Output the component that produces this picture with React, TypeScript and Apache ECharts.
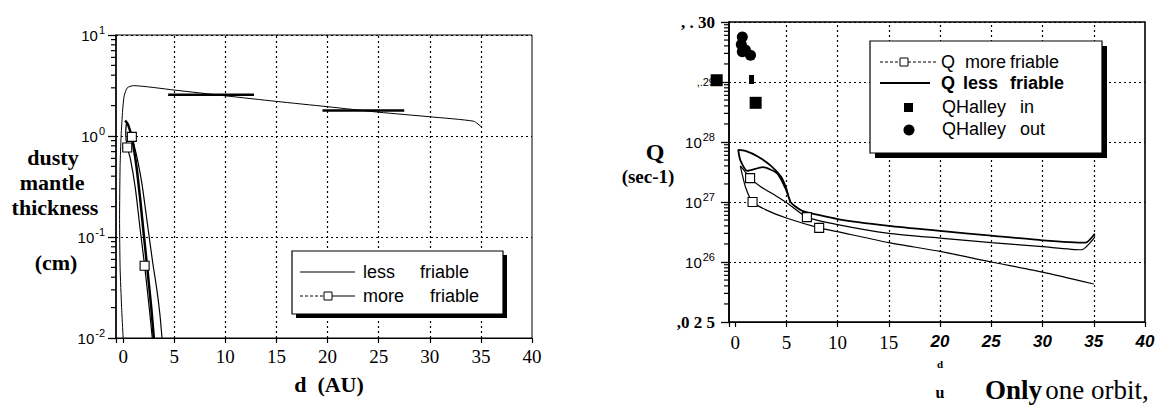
import React, { useEffect, useRef } from 'react';
import * as echarts from 'echarts';

const SERIF = '"Liberation Serif", "Times New Roman", serif';
const SANS = '"Liberation Sans", Arial, sans-serif';

// ---------------- Left panel: dusty mantle thickness (cm) vs d (AU)
const leftGridX = [5, 10, 15, 20, 25, 30, 35];
const leftMinorDecades = [0.01, 0.1, 1];
const minorMantissas = [2, 3, 4, 5, 6, 7, 8, 9];

const leftLessFriable: number[][] = [
  [0.0, 0.01], [-0.15, 0.02], [-0.3, 0.05], [-0.35, 0.15], [-0.3, 0.5], [-0.2, 1.0],
  [-0.05, 1.8], [0.1, 2.5], [0.4, 3.0], [1.0, 3.15], [5, 2.85], [10, 2.5], [15, 2.2],
  [20, 1.95], [25, 1.72], [30, 1.55], [34.3, 1.4], [35, 1.24],
];
const leftThickBranch: number[][] = [
  [0.2, 1.42], [0.5, 1.28], [0.9, 0.92], [1.3, 0.5], [1.7, 0.22], [2.0, 0.11],
  [2.4, 0.045], [2.75, 0.02], [3.0, 0.01],
];
const leftMoreFriable: number[][] = [
  [2.85, 0.01], [2.55, 0.02], [2.1, 0.052], [1.66, 0.12], [1.2, 0.3], [0.7, 0.6],
  [0.4, 0.77], [0.25, 1.05], [0.35, 1.35], [0.6, 1.2], [0.85, 0.98], [1.3, 0.65],
  [1.85, 0.33], [2.44, 0.12], [2.9, 0.055], [3.3, 0.03], [3.6, 0.017], [3.8, 0.01],
];
const leftMoreMarkers: number[][] = [[0.4, 0.77], [0.85, 0.98], [2.1, 0.052]];
const leftFlatSeg1: number[][] = [[4.4, 2.56], [12.8, 2.56]];
const leftFlatSeg2: number[][] = [[19.5, 1.79], [27.5, 1.79]];

// ---------------- Right panel: Q (sec-1) vs d (AU)
const rightGridX = [5, 10, 15, 20, 25, 30, 35];
const rightMinorDecades = [1e25, 1e26, 1e27, 1e28, 1e29];
const rightYTickLabels: Record<number, string> = {
  30: '{t|, . 30}',
  29: '{u|,.29}',
  28: '{b|10}{s|28}',
  27: '{b|10}{s|27}',
  26: '{b|10}{s|26}',
  25: '{t|,0 2 5}',
};

const rightMoreFriable: number[][] = [
  [35, 4.3e25], [30, 6.8e25], [25, 1.0e26], [20, 1.5e26], [15, 2.1e26], [10, 3.2e26],
  [8.2, 3.7e26], [5, 5.4e26], [3, 7.4e26], [1.7, 1.0e27], [1.0, 1.8e27], [0.5, 4.0e27],
  [0.8, 3.5e27], [1.46, 2.5e27], [2.5, 1.8e27], [4.0, 1.26e27], [5.2, 9.3e26],
  [7.0, 5.6e26], [10, 4.2e26], [15, 3.0e26], [20, 2.5e26], [25, 2.1e26], [30, 1.8e26],
  [33.8, 1.6e26], [35.1, 2.6e26],
];
const rightLessFriable: number[][] = [
  [35.1, 2.95e26], [34.2, 2.1e26], [30, 2.3e26], [25, 2.75e26], [20, 3.3e26],
  [15, 4.0e26], [10, 5.2e26], [6.5, 7.2e26], [5.4, 1.0e27], [5.0, 1.66e27],
  [4.5, 2.6e27], [3.5, 4.0e27], [2.2, 5.75e27], [1.0, 7.1e27], [0.3, 7.4e27],
  [0.5, 5.0e27], [1.2, 3.3e27], [2.7, 3.8e27], [4.1, 3.0e27], [4.9, 1.7e27], [5.4, 1.0e27],
];
const rightMoreMarkers: number[][] = [[1.7, 1.0e27], [1.46, 2.5e27], [7.0, 5.6e26], [8.2, 3.7e26]];
const halleyIn: number[][] = [[-1.8, 1.07e29], [2.0, 4.5e28]];
const halleyInSmall: number[][] = [[1.6, 1.1e29]];
const halleyOut: number[][] = [[0.7, 5.6e29], [0.6, 4.2e29], [0.7, 3.2e29], [1.0, 3.4e29], [1.5, 2.8e29]];

const dotted = { type: [2, 3] as any, color: '#000', width: 1.2 };

function minorTickSeries(idx: number, xAt: number, decades: number[]) {
  const data: number[][] = [];
  decades.forEach((d) => minorMantissas.forEach((m) => data.push([xAt, d * m])));
  return {
    type: 'scatter',
    xAxisIndex: idx,
    yAxisIndex: idx,
    clip: false,
    silent: true,
    z: 6,
    data,
    symbol: 'rect',
    symbolSize: [5, 1.2],
    symbolOffset: [-2.5, 0],
    itemStyle: { color: '#000', opacity: 1 },
  };
}

function txt(text: string, x: number, y: number, font: string, align = 'left', z = 102): any {
  return {
    type: 'text', x, y, z,
    style: { text, font, fill: '#000', align, verticalAlign: 'middle', textAlign: align, textVerticalAlign: 'middle' },
  };
}
function box(x: number, y: number, w: number, h: number, s: number): any[] {
  return [
    { type: 'rect', z: 100, shape: { x: x + s, y: y + s, width: w, height: h }, style: { fill: '#000' } },
    { type: 'rect', z: 101, shape: { x, y, width: w, height: h }, style: { fill: '#fff', stroke: '#000', lineWidth: 1.2 } },
  ];
}
function ln(x1: number, y1: number, x2: number, y2: number, w = 1, dash?: number[]): any {
  return { type: 'line', z: 102, shape: { x1, y1, x2, y2 }, style: { stroke: '#000', lineWidth: w, lineDash: dash } };
}

export default function App() {
  const ref = useRef<HTMLDivElement>(null);
  useEffect(() => {
    if (!ref.current) return;
    const chart = echarts.init(ref.current, undefined, { renderer: 'svg' });
    const supRich = {
      b: { fontFamily: SANS, fontSize: 15, color: '#000' },
      s: { fontFamily: SANS, fontSize: 11, color: '#000', padding: [0, 0, 10, 1] },
      t: { fontFamily: SERIF, fontSize: 17, fontWeight: 'bold', color: '#000' },
      u: { fontFamily: SANS, fontSize: 11, color: '#000' },
    };
    const opt: any = {
      animation: false,
      backgroundColor: '#fff',
      grid: [
        { left: 116, top: 35, width: 416, height: 303, show: true, borderColor: '#000', borderWidth: 1, backgroundColor: 'transparent' },
        { left: 729, top: 22, width: 416, height: 300, show: true, borderColor: '#000', borderWidth: 1.6, backgroundColor: 'transparent' },
      ],
      xAxis: [
        {
          gridIndex: 0, type: 'value', min: -0.7, max: 40, minInterval: 5, maxInterval: 5,
          axisLine: { show: true, onZero: false, lineStyle: { color: '#000', width: 1.2 } },
          axisTick: { show: true, length: 5, lineStyle: { color: '#000', width: 1.2 } },
          splitLine: { show: false },
          axisLabel: {
            margin: 9, color: '#000', fontFamily: SERIF, fontSize: 19,
            formatter: (v: number) => (Math.abs(v % 5) < 1e-6 ? String(v) : ''),
          },
        },
        {
          gridIndex: 1, type: 'value', min: -0.6, max: 40, minInterval: 5, maxInterval: 5,
          axisLine: { show: true, onZero: false, lineStyle: { color: '#000', width: 1.2 } },
          axisTick: { show: true, length: 5, lineStyle: { color: '#000', width: 1.2 } },
          splitLine: { show: false },
          axisLabel: {
            margin: 11, color: '#000',
            formatter: (v: number) => (Math.abs(v % 5) < 1e-6 ? (v < 20 ? `{s|${v}}` : `{i|${v}}`) : ''),
            rich: {
              s: { fontFamily: SERIF, fontSize: 19, color: '#000' },
              i: { fontFamily: SANS, fontSize: 17, fontWeight: 'bold', fontStyle: 'italic', color: '#000' },
            },
          },
        },
      ],
      yAxis: [
        {
          gridIndex: 0, type: 'log', logBase: 10, min: 0.01, max: 10,
          axisLine: { show: true, onZero: false, lineStyle: { color: '#000', width: 1.5 } },
          axisTick: { show: true, length: 8, lineStyle: { color: '#000', width: 1.3 } },
          splitLine: { show: true, lineStyle: dotted },
          axisLabel: {
            margin: 11, rich: supRich,
            formatter: (v: number) => `{b|10}{s|${Math.round(Math.log10(v))}}`,
          },
        },
        {
          gridIndex: 1, type: 'log', logBase: 10, min: 1e25, max: 1e30,
          axisLine: { show: true, onZero: false, lineStyle: { color: '#000', width: 1.5 } },
          axisTick: { show: true, length: 8, lineStyle: { color: '#000', width: 1.3 } },
          splitLine: { show: true, lineStyle: dotted },
          axisLabel: {
            margin: 14, rich: supRich,
            formatter: (v: number) => rightYTickLabels[Math.round(Math.log10(v))] || '',
          },
        },
      ],
      series: [
        minorTickSeries(0, -0.7, leftMinorDecades),
        minorTickSeries(1, -0.6, rightMinorDecades),
        {
          name: 'less friable', type: 'line', xAxisIndex: 0, yAxisIndex: 0, data: leftLessFriable,
          symbol: 'none', smooth: 0.2, lineStyle: { color: '#000', width: 1 },
          markLine: {
            silent: true, symbol: ['none', 'none'], label: { show: false },
            lineStyle: dotted, data: leftGridX.map((x) => ({ xAxis: x })),
          },
        },
        { type: 'line', xAxisIndex: 0, yAxisIndex: 0, data: leftThickBranch, symbol: 'none', smooth: 0.2, lineStyle: { color: '#000', width: 2.5 } },
        { name: 'more friable', type: 'line', xAxisIndex: 0, yAxisIndex: 0, data: leftMoreFriable, symbol: 'none', smooth: 0.2, lineStyle: { color: '#000', width: 1.2 } },
        { type: 'line', xAxisIndex: 0, yAxisIndex: 0, data: leftFlatSeg1, symbol: 'none', lineStyle: { color: '#000', width: 2.5 } },
        { type: 'line', xAxisIndex: 0, yAxisIndex: 0, data: leftFlatSeg2, symbol: 'none', lineStyle: { color: '#000', width: 2.5 } },
        {
          type: 'scatter', xAxisIndex: 0, yAxisIndex: 0, data: leftMoreMarkers, symbol: 'rect', symbolSize: 9, z: 4,
          itemStyle: { color: '#fff', borderColor: '#000', borderWidth: 1.1, opacity: 1 },
        },
        {
          name: 'Q less friable', type: 'line', xAxisIndex: 1, yAxisIndex: 1, data: rightLessFriable,
          symbol: 'none', smooth: 0.2, lineStyle: { color: '#000', width: 1.8 },
          markLine: {
            silent: true, symbol: ['none', 'none'], label: { show: false },
            lineStyle: dotted, data: rightGridX.map((x) => ({ xAxis: x })),
          },
        },
        { name: 'Q more friable', type: 'line', xAxisIndex: 1, yAxisIndex: 1, data: rightMoreFriable, symbol: 'none', smooth: 0.2, lineStyle: { color: '#000', width: 1.2 } },
        {
          type: 'scatter', xAxisIndex: 1, yAxisIndex: 1, data: rightMoreMarkers, symbol: 'rect', symbolSize: 9, z: 4,
          itemStyle: { color: '#fff', borderColor: '#000', borderWidth: 1.1, opacity: 1 },
        },
        { name: 'QHalley in', type: 'scatter', xAxisIndex: 1, yAxisIndex: 1, clip: false, data: halleyIn, symbol: 'rect', symbolSize: 12, itemStyle: { color: '#000', opacity: 1 } },
        { type: 'scatter', xAxisIndex: 1, yAxisIndex: 1, clip: false, data: halleyInSmall, symbol: 'rect', symbolSize: [5, 9], itemStyle: { color: '#000', opacity: 1 } },
        { name: 'QHalley out', type: 'scatter', xAxisIndex: 1, yAxisIndex: 1, clip: false, data: halleyOut, symbol: 'circle', symbolSize: 11, itemStyle: { color: '#000', opacity: 1 } },
      ],
      graphic: {
        elements: [
          // left axis titles
          txt('dusty', 53, 157, `bold 22px ${SERIF}`, 'center'),
          txt('mantle', 52, 182, `bold 22px ${SERIF}`, 'center'),
          txt('thickness', 55, 207, `bold 22px ${SERIF}`, 'center'),
          txt('(cm)', 56, 262, `bold 22px ${SERIF}`, 'center'),
          txt('d  (AU)', 329, 384, `bold 22px ${SERIF}`, 'center'),
          // left legend
          ...box(292, 251, 211, 63, 4),
          ln(300, 272, 355, 272, 1),
          txt('less', 363, 272, `18px ${SANS}`),
          txt('friable', 420, 272, `18px ${SANS}`),
          ln(300, 296, 324, 296, 1, [3, 2]),
          { type: 'rect', z: 102, shape: { x: 324, y: 292, width: 8, height: 8 }, style: { fill: '#fff', stroke: '#000', lineWidth: 1 } },
          ln(332, 296, 355, 296, 1),
          txt('more', 363, 296, `18px ${SANS}`),
          txt('friable', 430, 296, `18px ${SANS}`),
          // right axis titles
          txt('Q', 655, 152, `bold 24px ${SERIF}`, 'center'),
          txt('(sec-1)', 648, 176, `bold 19px ${SERIF}`, 'center'),
          // right legend
          ...box(870, 41, 232, 112, 5),
          ln(880, 62, 900, 62, 1, [3, 2]),
          { type: 'rect', z: 102, shape: { x: 900, y: 58, width: 8, height: 8 }, style: { fill: '#fff', stroke: '#000', lineWidth: 1 } },
          ln(908, 62, 936, 62, 1, [3, 2]),
          txt('Q', 941, 62, `18px ${SANS}`),
          txt('more', 965, 62, `18px ${SANS}`),
          txt('friable', 1010, 62, `18px ${SANS}`),
          ln(880, 83, 930, 83, 2.2),
          txt('Q', 941, 83, `bold 18px ${SANS}`),
          txt('less', 963, 83, `bold 18px ${SANS}`),
          txt('friable', 1010, 83, `bold 18px ${SANS}`),
          { type: 'rect', z: 102, shape: { x: 904, y: 103, width: 9, height: 9 }, style: { fill: '#000' } },
          txt('QHalley', 942, 107, `18px ${SANS}`),
          txt('in', 1020, 107, `18px ${SANS}`),
          { type: 'circle', z: 102, shape: { cx: 909, cy: 130, r: 5.5 }, style: { fill: '#000' } },
          txt('QHalley', 942, 129, `18px ${SANS}`),
          txt('out', 1020, 129, `18px ${SANS}`),
          // text below right panel
          txt('d', 940, 364, `bold 11px ${SERIF}`, 'center'),
          txt('u', 940, 392, `bold 16px ${SERIF}`, 'center'),
          {
            type: 'text', x: 985, y: 390, z: 102,
            style: {
              text: '{b|Only} {n|one orbit,}', fill: '#000', verticalAlign: 'middle', textVerticalAlign: 'middle',
              rich: {
                b: { fontFamily: SERIF, fontSize: 27, fontWeight: 'bold', fill: '#000' },
                n: { fontFamily: SERIF, fontSize: 27, fill: '#000' },
              },
            },
          },
        ],
      },
    };
    chart.setOption(opt);
    return () => chart.dispose();
  }, []);
  return (
    <div
      ref={ref}
      style={{ position: 'fixed', left: 0, top: 0, width: 1158, height: 406, background: '#fff' }}
    />
  );
}
